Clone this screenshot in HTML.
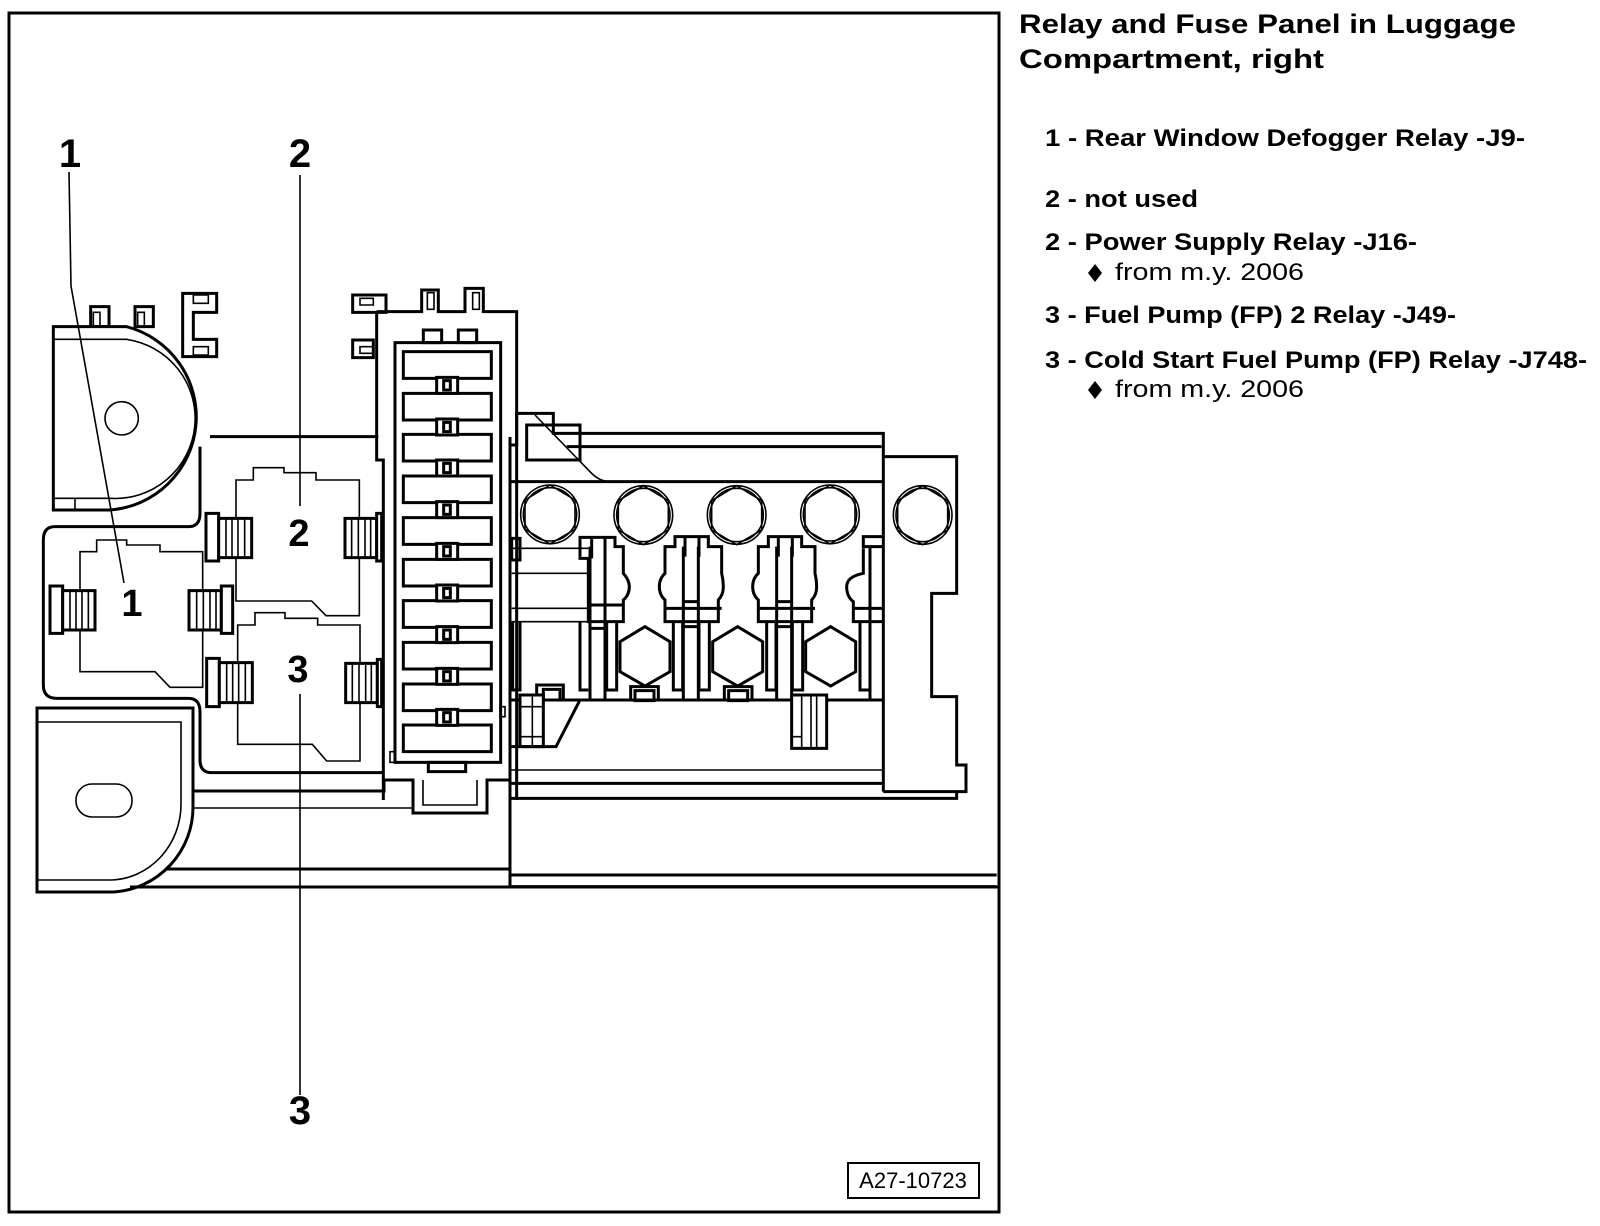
<!DOCTYPE html>
<html><head><meta charset="utf-8"><style>
html,body{margin:0;padding:0;background:#fff;}
svg{display:block}
svg *{vector-effect:non-scaling-stroke}
.t{fill:none;stroke:#000;stroke-width:3}
.n{fill:none;stroke:#000;stroke-width:1.6}
.w{fill:#fff;stroke:#000;stroke-width:3}
.wn{fill:#fff;stroke:#000;stroke-width:1.6}
text{font-family:"Liberation Sans Narrow","Liberation Sans",sans-serif;fill:#000}
</style></head><body>
<svg width="1600" height="1226" viewBox="0 0 1600 1226" xmlns="http://www.w3.org/2000/svg">
<!-- frame -->
<rect x="9" y="13" width="990" height="1199" class="t"/>

<!-- zoom2 region parts -->
<g transform="translate(0,280) scale(0.33333)">
  <rect x="272" y="80" width="55" height="60" class="t"/><rect x="280" y="97" width="20" height="43" class="n"/>
  <rect x="405" y="80" width="55" height="60" class="t"/><rect x="413" y="97" width="20" height="43" class="n"/>
  <path d="M548 40 H650 V97 H580 V178 H650 V230 H548 Z" class="t"/>
  <rect x="580" y="45" width="45" height="25" class="n"/><rect x="580" y="200" width="45" height="25" class="n"/>
  <path d="M330 690 H160 V140 H380 A280 280 0 0 1 330 690" class="w"/>
  <path d="M160 178 H380 A240 240 0 0 1 330 655 H160" class="n"/>
  <line x1="225" y1="655" x2="225" y2="690" class="n"/>
  <circle cx="365" cy="415" r="50" class="n"/>
  <line x1="630" y1="470" x2="1135" y2="470" class="t"/>
  <path d="M600 500 V700 Q600 740 565 740 H165 Q130 740 130 780 V1215 Q130 1255 170 1255 H565 Q600 1255 600 1295 V1440 Q600 1478 635 1478 H1148" class="t"/>
  <path d="M240 1175 V815 H290 V780 H380 V795 H480 V815 H608 V1222 H510 L465 1175 Z" class="n"/>
  <path d="M708 963 V600 H760 V563 H852 V578 H948 V600 H1078 V1007 H978 L935 963 Z" class="n"/>
  <path d="M713 1393 V1035 H765 V998 H855 V1015 H953 V1035 H1080 V1443 H980 L937 1393 Z" class="n"/>
  <g class="w">
   <rect x="150" y="918" width="38" height="142"/><rect x="188" y="932" width="97" height="118"/>
   <rect x="567" y="932" width="97" height="118"/><rect x="664" y="918" width="34" height="142"/>
   <rect x="618" y="700" width="38" height="143"/><rect x="656" y="715" width="99" height="118"/>
   <rect x="1035" y="715" width="95" height="118"/><rect x="1130" y="700" width="15" height="143"/>
   <rect x="620" y="1135" width="38" height="145"/><rect x="658" y="1148" width="99" height="120"/>
   <rect x="1037" y="1150" width="95" height="118"/><rect x="1132" y="1138" width="13" height="142"/>
  </g>
  <g class="n">
   <path d="M210 932V1050M228 932V1050M246 932V1050M265 932V1050"/>
   <path d="M590 932V1050M610 932V1050M630 932V1050M648 932V1050"/>
   <path d="M678 715V833M696 715V833M714 715V833M734 715V833"/>
   <path d="M1055 715V833M1075 715V833M1095 715V833M1112 715V833"/>
   <path d="M680 1148V1268M698 1148V1268M716 1148V1268M736 1148V1268"/>
   <path d="M1057 1150V1268M1077 1150V1268M1097 1150V1268M1114 1150V1268"/>
  </g>
  <path d="M1058 45 H1158 V97 H1058 Z M1058 180 H1120 V233 H1058 Z" class="t"/>
  <rect x="1080" y="55" width="40" height="20" class="n"/><rect x="1080" y="200" width="40" height="20" class="n"/>
  <path d="M1130 95 H1265 V30 H1315 V95 H1395 V25 H1450 V95 H1550 V1560 M1130 95 V540 H1150 V1560" class="t"/>
  <rect x="1282" y="38" width="20" height="50" class="n"/><rect x="1418" y="38" width="20" height="50" class="n"/>
  <rect x="1185" y="188" width="317" height="1259" class="t"/>
  <rect x="1270" y="150" width="55" height="38" class="t"/><rect x="1375" y="150" width="55" height="38" class="t"/>
  <rect x="1285" y="1447" width="112" height="28" class="t"/>
  <rect x="1170" y="1415" width="15" height="32" class="n"/>
  <g class="t">
   <rect x="1210" y="215" width="264" height="80"/><rect x="1210" y="340" width="264" height="80"/>
   <rect x="1210" y="463" width="264" height="80"/><rect x="1210" y="588" width="264" height="80"/>
   <rect x="1210" y="713" width="264" height="80"/><rect x="1210" y="838" width="264" height="80"/>
   <rect x="1210" y="962" width="264" height="80"/><rect x="1210" y="1087" width="264" height="80"/>
   <rect x="1210" y="1212" width="264" height="80"/><rect x="1210" y="1335" width="264" height="80"/>
  </g>
  <g class="w">
   <rect x="1310" y="292" width="63" height="48"/><rect x="1310" y="417" width="63" height="48"/>
   <rect x="1310" y="540" width="63" height="48"/><rect x="1310" y="665" width="63" height="48"/>
   <rect x="1310" y="790" width="63" height="48"/><rect x="1310" y="915" width="63" height="48"/>
   <rect x="1310" y="1040" width="63" height="48"/><rect x="1310" y="1165" width="63" height="48"/>
   <rect x="1310" y="1288" width="63" height="48"/>
  </g>
  <g class="t">
   <rect x="1331" y="302" width="20" height="28"/><rect x="1331" y="427" width="20" height="28"/>
   <rect x="1331" y="550" width="20" height="28"/><rect x="1331" y="675" width="20" height="28"/>
   <rect x="1331" y="800" width="20" height="28"/><rect x="1331" y="925" width="20" height="28"/>
   <rect x="1331" y="1050" width="20" height="28"/><rect x="1331" y="1175" width="20" height="28"/>
   <rect x="1331" y="1298" width="20" height="28"/>
  </g>
</g>

<!-- bottom left (true coords) -->
<path d="M37 892 V708 H193 V807 A85 85 0 0 1 114 892 Z" class="w"/>
<path d="M37 722 H181 V805 A72 76 0 0 1 112 880 H37" class="n"/>
<rect x="76" y="784" width="56" height="33" rx="16" class="n"/>
<path d="M193 791 H384 V780 M384 780 H413 V813 H487 V780 H510" class="t"/>
<path d="M423 780 V805 H477 V780" class="n"/>
<line x1="193" y1="808" x2="413" y2="808" class="n"/>
<line x1="165" y1="869" x2="510" y2="869" class="t"/>
<line x1="130" y1="887" x2="999" y2="887" class="t"/>
<line x1="510" y1="437" x2="510" y2="887" class="t"/>

<!-- right machinery (zoom3 coords) -->
<g transform="translate(500,400) scale(0.33333)">
  <path d="M30 135 H50 V40 H160 V100 H1150 V1175" class="t"/>
  <path d="M30 135 V1460" class="t"/>
  <rect x="80" y="75" width="160" height="105" class="t"/>
  <line x1="200" y1="140" x2="1145" y2="140" class="t"/>
  <path d="M105 45 L270 215 Q295 242 325 245" class="n"/>
  <line x1="30" y1="245" x2="1150" y2="245" class="t"/>
  <path d="M1150 170 H1370 V580 H1295 V890 H1370 V1095 H1398 V1175 H1150" class="t"/>
  <line x1="30" y1="1110" x2="1150" y2="1110" class="n"/>
  <line x1="30" y1="1150" x2="1150" y2="1150" class="t"/>
  <path d="M30 1195 H1370 V1175" class="t"/>
  <line x1="30" y1="1425" x2="1490" y2="1425" class="t"/>
  <line x1="30" y1="1460" x2="1490" y2="1460" class="t"/>
  <g class="n">
   <circle cx="150" cy="343" r="88"/><circle cx="150" cy="343" r="80"/>
   <path d="M150 255 L225 300 V388 L150 432 L75 388 V300 Z"/>
   <circle cx="430" cy="345" r="88"/><circle cx="430" cy="345" r="80"/>
   <path d="M430 257 L505 302 V390 L430 434 L355 390 V302 Z"/>
   <circle cx="710" cy="345" r="88"/><circle cx="710" cy="345" r="80"/>
   <path d="M710 257 L785 302 V390 L710 434 L635 390 V302 Z"/>
   <circle cx="990" cy="343" r="88"/><circle cx="990" cy="343" r="80"/>
   <path d="M990 255 L1065 300 V388 L990 432 L915 388 V300 Z"/>
   <circle cx="1268" cy="345" r="88"/><circle cx="1268" cy="345" r="80"/>
   <path d="M1268 257 L1343 302 V390 L1268 434 L1193 390 V302 Z"/>
  </g>
  <g class="t">
   <path d="M435 680 L510 725 V815 L435 858 L360 815 V725 Z"/>
   <path d="M713 680 L788 725 V815 L713 858 L638 815 V725 Z"/>
   <path d="M992 680 L1067 725 V815 L992 858 L917 815 V725 Z"/>
  </g>
  <path d="M35 445 H265 M35 520 H265 M35 625 H265 M35 665 H265" class="n"/>
  <rect x="35" y="415" width="25" height="65" class="t"/>
  <path d="M38 665 V870 H60 V665 M240 665 V870 H265" class="t"/>
  <g>
   <path d="M240 412 H345 V440 H370 V520 Q388 540 388 560 Q388 585 370 600 V665 H265 V475 H240 Z" class="t"/>
   <path d="M270 440 V900 M315 440 V900 M270 615 H370 M270 685 H315 M275 412 V475 M315 412 V475" class="t"/>
   <path d="M320 665 V870 H350 V665" class="t"/>
   <path d="M495 440 H525 V410 H625 V440 H665 V520 Q670 540 670 560 Q670 585 655 600 V665 H495 V600 Q478 585 478 560 Q478 535 495 520 Z" class="t"/>
   <path d="M550 440 V900 M595 440 V900 M550 605 H595 M550 680 H595 M495 625 H665 M555 410 V470 M597 410 V470" class="t"/>
   <path d="M520 665 V870 H548 V665 M597 665 V870 H628 V665" class="t"/>
   <path d="M775 440 H805 V410 H905 V440 H945 V520 Q950 540 950 560 Q950 585 935 600 V665 H775 V600 Q758 585 758 560 Q758 535 775 520 Z" class="t"/>
   <path d="M830 440 V900 M875 440 V900 M830 605 H875 M830 680 H875 M775 625 H945 M835 410 V470 M877 410 V470" class="t"/>
   <path d="M800 665 V870 H828 V665 M877 665 V870 H908 V665" class="t"/>
   <path d="M1150 440 H1090 V410 H1150 M1110 440 V900 M1090 445 V520 Q1040 530 1040 560 Q1040 590 1060 605 V665 H1150 M1060 625 H1150" class="t"/>
   <path d="M1080 665 V870 H1108" class="t"/>
  </g>
  <line x1="30" y1="900" x2="1150" y2="900" class="t"/>
  <rect x="392" y="860" width="83" height="40" class="w"/><rect x="405" y="872" width="57" height="30" class="t"/>
  <rect x="673" y="860" width="83" height="40" class="w"/><rect x="686" y="872" width="57" height="30" class="t"/>
  <path d="M110 885 V855 H190 V900" class="t"/><rect x="130" y="868" width="50" height="32" class="t"/>
  <rect x="60" y="885" width="70" height="155" class="w"/>
  <path d="M97 885 V1040 M60 1010 H130 M60 920 H130" class="n"/>
  <path d="M130 900 H240 L168 1040 H30" class="t"/>
  <rect x="0" y="920" width="15" height="30" class="n"/>
  <rect x="875" y="885" width="105" height="160" class="w"/>
  <path d="M905 885 V1045 M933 885 V1045 M950 885 V1045 M875 1010 H905" class="n"/>
</g>

<path d="M69 172 L71 286 L124 583" class="n"/>
<line x1="300" y1="175" x2="300" y2="506" class="n"/>
<line x1="300" y1="694" x2="300" y2="1095" class="n"/>

<g font-weight="bold" font-size="40" text-anchor="middle" style="font-family:'Liberation Sans',sans-serif">
  <text x="70" y="167">1</text>
  <text x="300" y="167">2</text>
  <text x="300" y="1124">3</text>
  <text x="132" y="616" font-size="38">1</text>
  <text x="299" y="546" font-size="38">2</text>
  <text x="298" y="682" font-size="38">3</text>
</g>

<rect x="848" y="1163" width="131" height="35" class="t" style="stroke-width:2"/>
<text x="913" y="1188" font-size="22" text-anchor="middle" style="font-family:'Liberation Sans',sans-serif">A27-10723</text>

<g font-weight="bold">
  <text x="1019" y="33" font-size="27" textLength="497" lengthAdjust="spacingAndGlyphs">Relay and Fuse Panel in Luggage</text>
  <text x="1019" y="68" font-size="27" textLength="305" lengthAdjust="spacingAndGlyphs">Compartment, right</text>
  <text x="1045" y="146" font-size="24" textLength="480" lengthAdjust="spacingAndGlyphs">1 - Rear Window Defogger Relay -J9-</text>
  <text x="1045" y="207" font-size="24" textLength="153" lengthAdjust="spacingAndGlyphs">2 - not used</text>
  <text x="1045" y="250" font-size="24" textLength="372" lengthAdjust="spacingAndGlyphs">2 - Power Supply Relay -J16-</text>
  <text x="1045" y="323" font-size="24" textLength="411" lengthAdjust="spacingAndGlyphs">3 - Fuel Pump (FP) 2 Relay -J49-</text>
  <text x="1045" y="368" font-size="24" textLength="542" lengthAdjust="spacingAndGlyphs">3 - Cold Start Fuel Pump (FP) Relay -J748-</text>
</g>
<path d="M1095 264 L1102 273 L1095 282 L1088 273 Z" fill="#000"/>
<path d="M1095 381 L1102 390 L1095 399 L1088 390 Z" fill="#000"/>
<text x="1115" y="280" font-size="24" textLength="189" lengthAdjust="spacingAndGlyphs">from m.y. 2006</text>
<text x="1115" y="397" font-size="24" textLength="189" lengthAdjust="spacingAndGlyphs">from m.y. 2006</text>
</svg>
</body></html>
